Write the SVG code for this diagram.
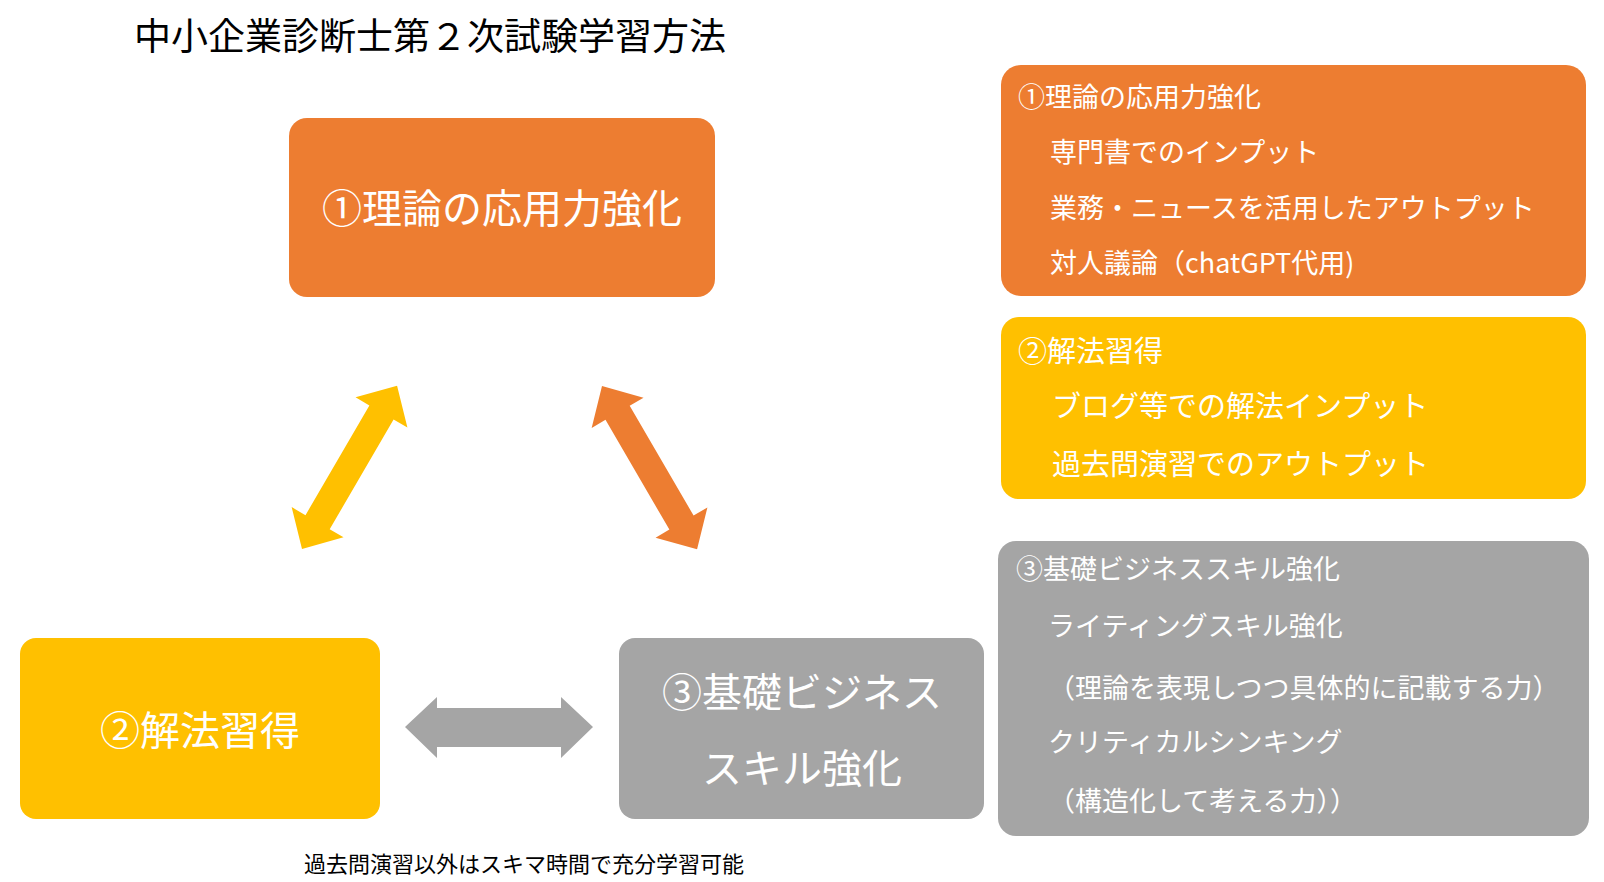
<svg xmlns="http://www.w3.org/2000/svg" width="1604" height="882" viewBox="0 0 1604 882">
<style>
text{font-family:"Noto Sans CJK JP","Noto Sans",sans-serif;fill:#fff}
.t{fill:#000;font-size:37px}
.big{font-size:40px;text-anchor:middle}
.p{font-size:27px}
.py{font-size:29px}
.f{fill:#000;font-size:22px}
.o{fill:#ED7D31}.y{fill:#FFC000}.g{fill:#A5A5A5}
</style>
<rect width="1604" height="882" fill="#fff"/>
<text class="t" x="134" y="50">中小企業診断士第２次試験学習方法</text>
<g id="node1"><rect class="o" x="289" y="118" width="426" height="179" rx="18"/><text class="big" x="502" y="223">①理論の応用力強化</text></g>
<g id="node2"><rect class="y" x="20" y="638" width="360" height="181" rx="16"/><text class="big" x="200" y="745">②解法習得</text></g>
<g id="node3"><rect class="g" x="619" y="638" width="365" height="181" rx="16"/><text class="big" x="802" y="707">③基礎ビジネス</text><text class="big" x="802" y="783">スキル強化</text></g>
<g id="connectors">
<path class="y" transform="translate(302,549) rotate(-59.8)" d="M0,0 L31,-30 L31,-14 L158,-14 L158,-30 L189,0 L158,30 L158,14 L31,14 L31,30 Z"/>
<path class="o" transform="translate(602,386) rotate(59.8)" d="M0,0 L31,-30 L31,-14 L158,-14 L158,-30 L189,0 L158,30 L158,14 L31,14 L31,30 Z"/>
<path class="g" d="M405,727 L437,697 L437,708 L561,708 L561,697 L593,727 L561,758 L561,747 L437,747 L437,758 Z"/>
</g>
<g id="panel1"><rect class="o" x="1001" y="65" width="585" height="231" rx="20"/>
<text class="p" x="1018" y="107">①理論の応用力強化</text>
<text class="p" x="1050" y="162">専門書でのインプット</text>
<text class="p" x="1050" y="218">業務・ニュースを活用したアウトプット</text>
<text class="p" x="1050" y="273">対人議論（chatGPT代用)</text></g>
<g id="panel2"><rect class="y" x="1001" y="317" width="585" height="182" rx="18"/>
<text class="py" x="1018" y="362">②解法習得</text>
<text class="py" x="1052" y="417">ブログ等での解法インプット</text>
<text class="py" x="1052" y="475">過去問演習でのアウトプット</text></g>
<g id="panel3"><rect class="g" x="998" y="541" width="591" height="295" rx="18"/>
<text class="p" x="1016" y="579">③基礎ビジネススキル強化</text>
<text class="p" x="1048" y="636">ライティングスキル強化</text>
<text class="p" x="1048" y="698">（理論を表現しつつ具体的に記載する力）</text>
<text class="p" x="1048" y="752">クリティカルシンキング</text>
<text class="p" x="1048" y="811">（構造化して考える力））</text></g>
<text class="f" x="304" y="872">過去問演習以外はスキマ時間で充分学習可能</text>
</svg>
